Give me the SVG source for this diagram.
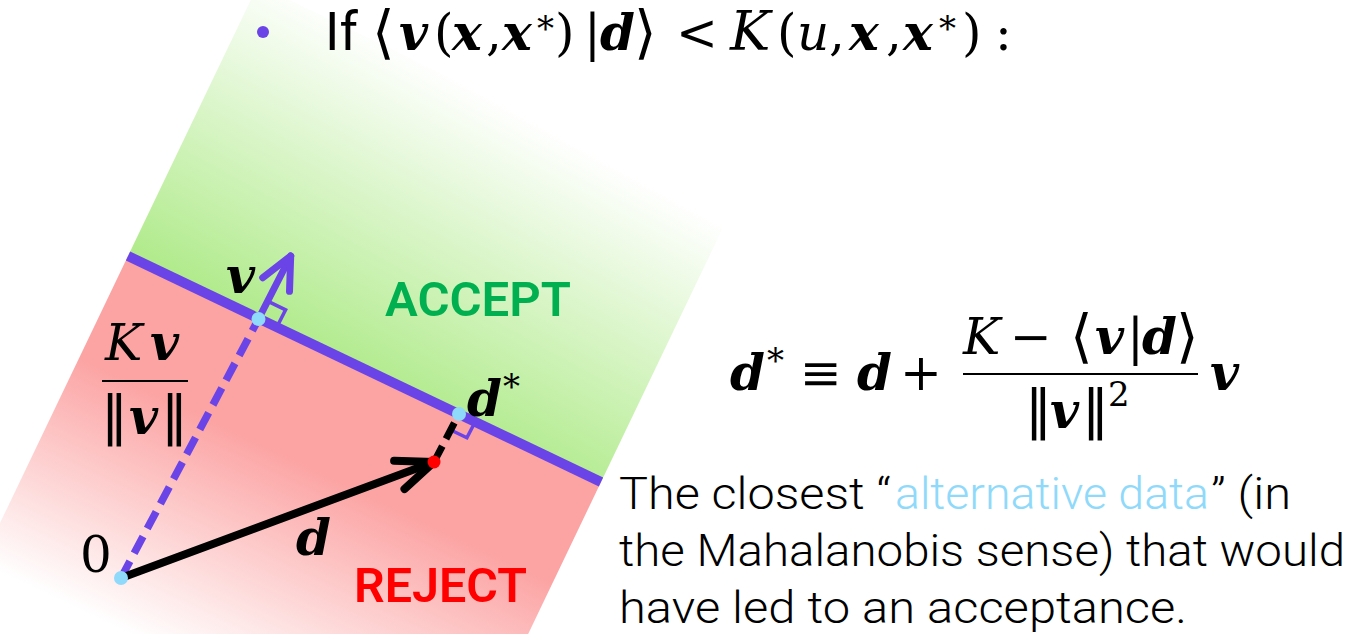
<svg xmlns="http://www.w3.org/2000/svg" width="1355" height="634" viewBox="0 0 1355 634">
<defs>
<style>
.m{font-family:'DejaVu Serif','Liberation Serif',serif;font-size:50px;fill:#000}
.bi{font-weight:bold;font-style:italic}
.i{font-style:italic}
.st{font-size:34px}
.ang{font-size:58px}
.dbar{font-family:'DejaVu Sans',sans-serif;font-size:54px}
.sans{font-family:Roboto,'Liberation Sans',sans-serif}
.body{font-family:Roboto,'Liberation Sans',sans-serif;font-size:45px;font-weight:300;fill:#000}
.lb{fill:#8fd9fb}
.pur{stroke:#6a44e6;fill:none}
.blk{stroke:#000;fill:none}
.bdot{fill:#8fd9fb}
</style>
<linearGradient id="gG" gradientUnits="userSpaceOnUse" x1="183" y1="273" x2="329" y2="8">
<stop offset="0" stop-color="#b2eb8e"/>
<stop offset="1" stop-color="#b2eb8e" stop-opacity="0"/>
</linearGradient>
<linearGradient id="gR" gradientUnits="userSpaceOnUse" x1="80" y1="355" x2="-19" y2="563">
<stop offset="0" stop-color="#fca3a3"/>
<stop offset="1" stop-color="#fca3a3" stop-opacity="0"/>
</linearGradient>
</defs>
<rect width="1355" height="634" fill="#fff"/>

<g id="accept-region">
<polygon points="128,256 601,482 731,211 258,-15" fill="url(#gG)"/>
<text class="sans" x="385" y="316" font-size="48" font-weight="600" fill="#00b050" textLength="186" lengthAdjust="spacingAndGlyphs">ACCEPT</text>
</g>
<g id="reject-region">
<polygon points="128,256 601,482 428,843 -45,617" fill="url(#gR)"/>
<text class="sans" x="354" y="602" font-size="49" font-weight="600" fill="#ff0000" textLength="173" lengthAdjust="spacingAndGlyphs">REJECT</text>
</g>

<g id="connectors">
<polyline class="pur" points="267.6,301.2 285.6,309.9 276.5,327.7" stroke-width="3.5"/>
<polyline class="pur" points="450.7,430 466.9,437.8 475.2,421.8" stroke-width="3.5"/>
<line id="boundary" class="pur" x1="128" y1="256" x2="601" y2="482" stroke-width="10"/>
<line class="pur" x1="121" y1="578" x2="258.5" y2="319" stroke-width="7.5" stroke-dasharray="19 9"/>
<line class="pur" x1="258.5" y1="319" x2="290.7" y2="256" stroke-width="7" stroke-linecap="round"/>
<polyline class="pur" points="262.7,277.7 290.7,256 289.5,291.3" stroke-width="7" stroke-linecap="round" stroke-linejoin="round"/>
<line class="blk" x1="434" y1="462" x2="459" y2="414" stroke-width="7" stroke-dasharray="18 8"/>
<line class="blk" x1="121" y1="578" x2="434" y2="462" stroke-width="8" stroke-linecap="round"/>
<polyline class="blk" points="394.1,460.8 434,462 404.5,489" stroke-width="8" stroke-linecap="round" stroke-linejoin="round"/>
</g>

<g id="origin">
<circle class="bdot" cx="121" cy="578" r="7"/>
<text class="m" x="80" y="572">0</text>
</g>
<g id="v-foot">
<circle class="bdot" cx="258.5" cy="319" r="7"/>
<text class="m bi" x="226" y="293">v</text>
</g>
<g id="d-star">
<circle class="bdot" cx="459" cy="414" r="7"/>
<text class="m" y="416"><tspan class="bi" x="467">d</tspan><tspan class="st" x="503" y="398">*</tspan></text>
</g>
<g id="d-tip">
<circle cx="434" cy="462" r="6.5" fill="#ff0000"/>
<text class="m bi" x="296" y="555">d</text>
</g>
<g id="kv-label">
<text class="m" y="360"><tspan class="i" x="105">K</tspan><tspan class="bi" x="150">v</tspan></text>
<line x1="102" y1="381" x2="188" y2="381" stroke="#000" stroke-width="2.2"/>
<text class="m" y="434"><tspan class="dbar" x="101">‖</tspan><tspan class="bi" x="129">v</tspan><tspan class="dbar" x="161">‖</tspan></text>
</g>

<g id="condition">
<circle cx="263" cy="32" r="6" fill="#6a44e6"/>
<text class="sans" x="325" y="50" font-size="53">If</text>
<text class="m" y="50"><tspan class="ang" x="372" y="52">⟨</tspan><tspan class="bi" x="399" y="50">v</tspan><tspan x="434">(</tspan><tspan class="bi" x="452">x</tspan><tspan x="486">,</tspan><tspan class="bi" x="502">x</tspan><tspan class="st" x="537" y="40">*</tspan><tspan x="555" y="50">)</tspan><tspan x="584">|</tspan><tspan class="bi" x="600">d</tspan><tspan class="ang" x="634" y="52">⟩</tspan><tspan x="676" y="50">&lt;</tspan><tspan class="i" x="730" font-size="54">K</tspan><tspan x="777">(</tspan><tspan class="i" x="797">u</tspan><tspan x="829">,</tspan><tspan class="bi" x="849">x</tspan><tspan x="886">,</tspan><tspan class="bi" x="903">x</tspan><tspan class="st" x="939" y="40">*</tspan><tspan x="962" y="50">)</tspan><tspan x="995">:</tspan></text>
</g>

<g id="dstar-formula">
<text class="m" y="390"><tspan class="bi" x="730">d</tspan><tspan class="st" x="767" y="372">*</tspan><tspan x="800" y="390">≡</tspan><tspan class="bi" x="857">d</tspan><tspan x="900">+</tspan><tspan class="bi" x="1210">v</tspan></text>
<text class="m" y="354"><tspan class="i" x="963">K</tspan><tspan x="1010">−</tspan><tspan class="ang" x="1070" y="356">⟨</tspan><tspan class="bi" x="1095" y="354">v</tspan><tspan x="1127">|</tspan><tspan class="bi" x="1142">d</tspan><tspan class="ang" x="1176" y="356">⟩</tspan></text>
<line x1="963" y1="374" x2="1198" y2="374" stroke="#000" stroke-width="2.2"/>
<text class="m" y="428"><tspan class="dbar" x="1025">‖</tspan><tspan class="bi" x="1050">v</tspan><tspan class="dbar" x="1082">‖</tspan><tspan class="st" x="1108" y="406">2</tspan></text>
</g>

<g id="caption">
<text class="body" x="619" y="509" textLength="272" lengthAdjust="spacingAndGlyphs">The closest “</text>
<text class="body lb" x="895" y="509" textLength="314" lengthAdjust="spacingAndGlyphs">alternative data</text>
<text class="body" x="1211" y="509" textLength="80" lengthAdjust="spacingAndGlyphs">” (in</text>
<text class="body" x="619" y="566" textLength="726" lengthAdjust="spacingAndGlyphs">the Mahalanobis sense) that would</text>
<text class="body" x="619" y="623" textLength="568" lengthAdjust="spacingAndGlyphs">have led to an acceptance.</text>
</g>
</svg>
